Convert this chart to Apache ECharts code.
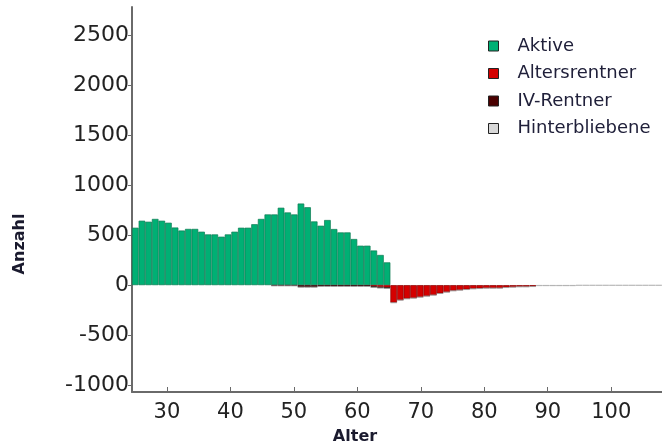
<!DOCTYPE html>
<html>
<head>
<meta charset="utf-8">
<script src="https://cdn.jsdelivr.net/npm/echarts@6/dist/echarts.min.js"></script>
<style>html,body{margin:0;padding:0;background:#fff}#c{width:662px;height:448px}</style>
</head>
<body>
<div id="c"></div>
<script>
var ages = [25,26,27,28,29,30,31,32,33,34,35,36,37,38,39,40,41,42,43,44,45,46,47,48,49,50,51,52,53,54,55,56,57,58,59,60,61,62,63,64,65,66,67,68,69,70,71,72,73,74,75,76,77,78,79,80,81,82,83,84,85,86,87,88,89,90,91,92,93,94,95,96,97,98,99,100,101,102,103,104];
var aktive = [575,645,635,663,645,625,577,547,563,563,535,508,508,485,508,535,575,575,610,663,708,708,775,728,708,817,780,638,595,652,562,528,528,462,395,395,347,302,228,
  null,null,null,null,null,null,null,null,null,null,null,null,null,null,null,null,null,null,null,null,null,null,null,null,null,null,null,null,null,null,null,null,null,null,null,null,null,null,null,null,null,null];
var altersrentner = [null,null,null,null,null,null,null,null,null,null,null,null,null,null,null,null,null,null,null,null,null,null,null,null,null,null,null,null,null,null,null,null,null,null,null,null,
  -12,-18,-22,
  -175,-150,-136,-130,-120,-110,-100,-83,-70,-56,-50,-43,-36,-33,-30,-30,-30,-23,-20,-16,-16,-13,
  null,null,null,null,null,null,null,null,null,null,null,null,null,null,null,null,null,null,null];
var ivRentner = [null,null,null,null,null,null,null,null,null,null,null,null,null,null,null,null,null,null,null,null,null,
  -6,-6,-6,-6,-20,-20,-20,-12,-12,-12,-12,-12,-12,-12,-12,-10,-10,-10,
  null,null,null,null,null,null,null,null,null,null,null,null,null,null,null,null,null,null,null,null,null,null,null,null,null,null,null,null,null,null,null,null,null,null,null,null,null,null,null,null,null];
var hinterbliebene = [null,null,null,null,null,null,null,null,null,null,null,null,null,null,null,null,null,null,null,null,null,
  -2,-2,-2,-2,-2,-2,-2,-2,-2,-2,-2,-2,-2,-2,-2,-2,-2,-2,
  -2,-2,-2,-2,-2,-2,-2,-2,-2,-2,-2,-2,-2,-2,-2,-2,-2,-2,-2,-2,-2,-2,
  -8,-8,-8,-8,-8,-8,
  -3,-3,-3,-3,-3,-3,-3,-3,-3,-3,-3,-3,-3];
var xTicks = [30,40,50,60,70,80,90,100];
var yTicks = [-1000,-500,0,500,1000,1500,2000,2500];

var chart = echarts.init(document.getElementById('c'));
var FONT = 'DejaVu Sans';
var axisColor = '#6a6a6a';
function plain(v) { return String(v); }
chart.setOption({
  animation: false,
  grid: {left: 132, right: 0, top: 7, bottom: 56},
  legend: {
    orient: 'vertical', left: 488, top: 36, padding: 0, itemWidth: 10, itemHeight: 10, itemGap: 7.5,
    icon: 'rect',
    itemStyle: {borderColor: '#222', borderWidth: 1},
    textStyle: {fontFamily: FONT, fontSize: 18, color: '#20203a', lineHeight: 20, padding: [0, 0, 0, 14]},
    data: ['Aktive', 'Altersrentner', 'IV-Rentner', 'Hinterbliebene']
  },
  xAxis: [
    {type: 'category', data: ages, show: false, boundaryGap: true},
    {type: 'value', min: 24.5, max: 108, position: 'bottom',
     axisLine: {show: true, onZero: false, lineStyle: {color: axisColor, width: 2}},
     axisTick: {show: true, inside: true, length: 5, customValues: xTicks, lineStyle: {color: axisColor}},
     axisLabel: {customValues: xTicks, formatter: plain, fontFamily: FONT, fontSize: 21, color: '#222', margin: 10},
     splitLine: {show: false}}
  ],
  yAxis: {
    type: 'value', min: -1070, max: 2785,
    axisLine: {show: true, lineStyle: {color: axisColor, width: 2}},
    axisTick: {show: true, length: 4, customValues: yTicks, lineStyle: {color: axisColor}},
    axisLabel: {customValues: yTicks, formatter: plain, fontFamily: FONT, fontSize: 22, color: '#222', margin: 3},
    splitLine: {show: false}
  },
  graphic: [
    {type: 'text', x: 355, y: 437, style: {text: 'Alter', fontFamily: FONT, fontWeight: 'bold', fontSize: 16, fill: '#1a1a2e', align: 'center', verticalAlign: 'middle'}},
    {type: 'text', x: 20, y: 244, rotation: Math.PI / 2, style: {text: 'Anzahl', fontFamily: FONT, fontWeight: 'bold', fontSize: 16, fill: '#1a1a2e', align: 'center', verticalAlign: 'middle'}}
  ],
  series: [
    {name: 'Aktive', type: 'bar', stack: 'a', xAxisIndex: 0, barCategoryGap: '0%', data: aktive,
     itemStyle: {color: '#00b074', borderColor: '#0b7a52', borderWidth: 0.7}},
    {name: 'Altersrentner', type: 'bar', stack: 'a', xAxisIndex: 0, barCategoryGap: '0%', data: altersrentner,
     itemStyle: {color: '#d40000', borderColor: '#8a0000', borderWidth: 0.7}},
    {name: 'IV-Rentner', type: 'bar', stack: 'a', xAxisIndex: 0, barCategoryGap: '0%', data: ivRentner,
     itemStyle: {color: '#4a0000', borderColor: '#2a0000', borderWidth: 0.7}},
    {name: 'Hinterbliebene', type: 'bar', stack: 'a', xAxisIndex: 0, barCategoryGap: '0%', data: hinterbliebene,
     itemStyle: {color: '#d8d8d8', borderColor: '#999', borderWidth: 0.5}}
  ]
});
</script>
</body>
</html>
